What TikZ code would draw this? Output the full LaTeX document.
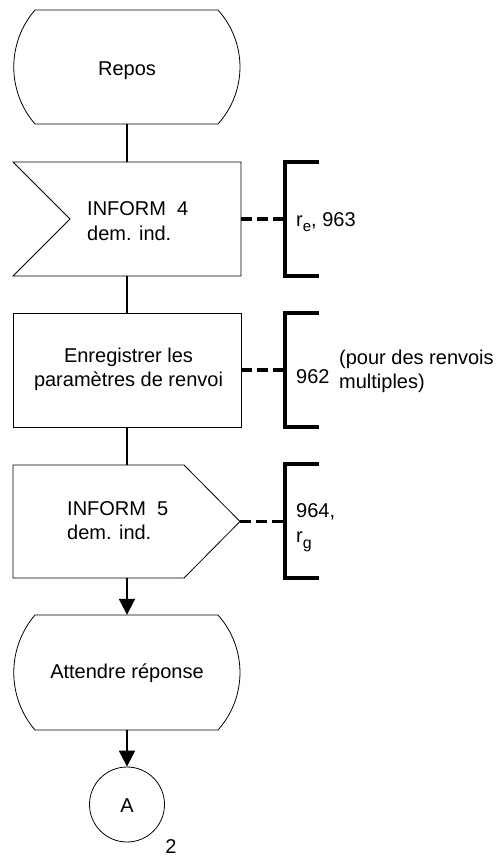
\documentclass[tikz,border=0pt]{standalone}
\usepackage{fontspec}
\setmainfont{Liberation Sans}
\usetikzlibrary{arrows.meta}
\begin{document}
\begin{tikzpicture}[x=1pt,y=-1pt,
  frame/.style={draw=none, minimum width=228pt, minimum height=114pt, inner sep=0pt},
  outline/.style={draw=black, line width=0.8pt},
  flow/.style={line width=2pt},
  arrowflow/.style={line width=2pt, -{Triangle[length=16pt,width=16pt]}},
  refline/.style={line width=3.6pt, dash pattern=on 11pt off 5pt},
  brk/.style={line width=3.8pt},
  txt/.style={font=\fontsize{20}{24}\selectfont, inner sep=0pt}]
\useasboundingbox (0,0) rectangle (503,859);

% frames (invisible anchors for the shapes)
\node[frame] (repos) at (127,67) {};
\node[frame] (in4) at (127,219) {};
\node[frame] (task) at (127,370) {};
\node[frame, minimum height=113pt] (out5) at (127,521.5) {};
\node[frame, minimum height=115pt] (wait) at (127,672.5) {};
\node[circle, outline, minimum size=75pt, inner sep=0pt] (conn) at (127,804.5) {};

% outlines
\draw[outline] (35,10) -- (218,10) .. controls (247.3,42.6) and (247.3,91.4) .. (218,124)
  -- (35,124) .. controls (6.7,91.4) and (6.7,42.6) .. (35,10) -- cycle;
\draw[outline] (13,162) -- (241,162) -- (241,276) -- (13,276) -- (70,219) -- cycle;
\draw[outline] (13,313) rectangle (241,427);
\draw[outline] (13,465) -- (184,465) -- (240,521.5) -- (184,578) -- (13,578) -- cycle;
\draw[outline] (35,615) -- (218,615) .. controls (247.3,648) and (247.3,697) .. (218,730)
  -- (35,730) .. controls (6.7,697) and (6.7,648) .. (35,615) -- cycle;

% texts in shapes
\node[txt, anchor=base] (tRepos) at (127,75) {Repos};
\node[txt, anchor=base west] (tIn4a) at (87,215) {INFORM\ \ 4};
\node[txt, anchor=base west] (tIn4b) at (87,240) {dem. ind.};
\node[txt, anchor=base] (tTaska) at (128.5,362.5) {Enregistrer les};
\node[txt, anchor=base] (tTaskb) at (128.5,386) {paramètres de renvoi};
\node[txt, anchor=base west] (tOut5a) at (67,515) {INFORM\ \ 5};
\node[txt, anchor=base west] (tOut5b) at (67,539) {dem. ind.};
\node[txt, anchor=base] (tWait) at (127,678) {Attendre réponse};
\node[txt, anchor=base] (tA) at (127,812) {A};
\node[txt, anchor=base] (tTwo) at (171,853) {2};

% flow connectors
\draw[flow] (repos.south) -- (in4.north);
\draw[flow] (in4.south) -- (task.north);
\draw[flow] (task.south) -- (out5.north);
\draw[arrowflow] (out5.south) -- (wait.north);
\draw[arrowflow] (wait.south) -- (conn.north);

% reference brackets
\coordinate (b1) at (285,219);
\coordinate (b2) at (285,370);
\coordinate (b3) at (285,521.5);
\draw[brk] (319,162) -- (285,162) -- (285,276) -- (319,276);
\draw[brk] (319,313) -- (285,313) -- (285,427) -- (319,427);
\draw[brk] (319,464) -- (285,464) -- (285,578) -- (319,578);
\draw[refline] (in4.east) -- (b1);
\draw[refline] (task.east) -- (b2);
\draw[refline] (240,521.5) -- (b3);

% reference labels
\node[txt, anchor=base west] (l1) at (296,226) {r\raisebox{-5pt}{\fontsize{15}{15}\selectfont e}, 963};
\node[txt, anchor=base west] (l2) at (296,383) {962};
\node[txt, anchor=base west] (l2a) at (339,364) {(pour des renvois};
\node[txt, anchor=base west] (l2b) at (339,388) {multiples)};
\node[txt, anchor=base west] (l3a) at (296,517) {964,};
\node[txt, anchor=base west] (l3b) at (296,542) {r\raisebox{-6pt}{\fontsize{16}{16}\selectfont g}};
\end{tikzpicture}
\end{document}
